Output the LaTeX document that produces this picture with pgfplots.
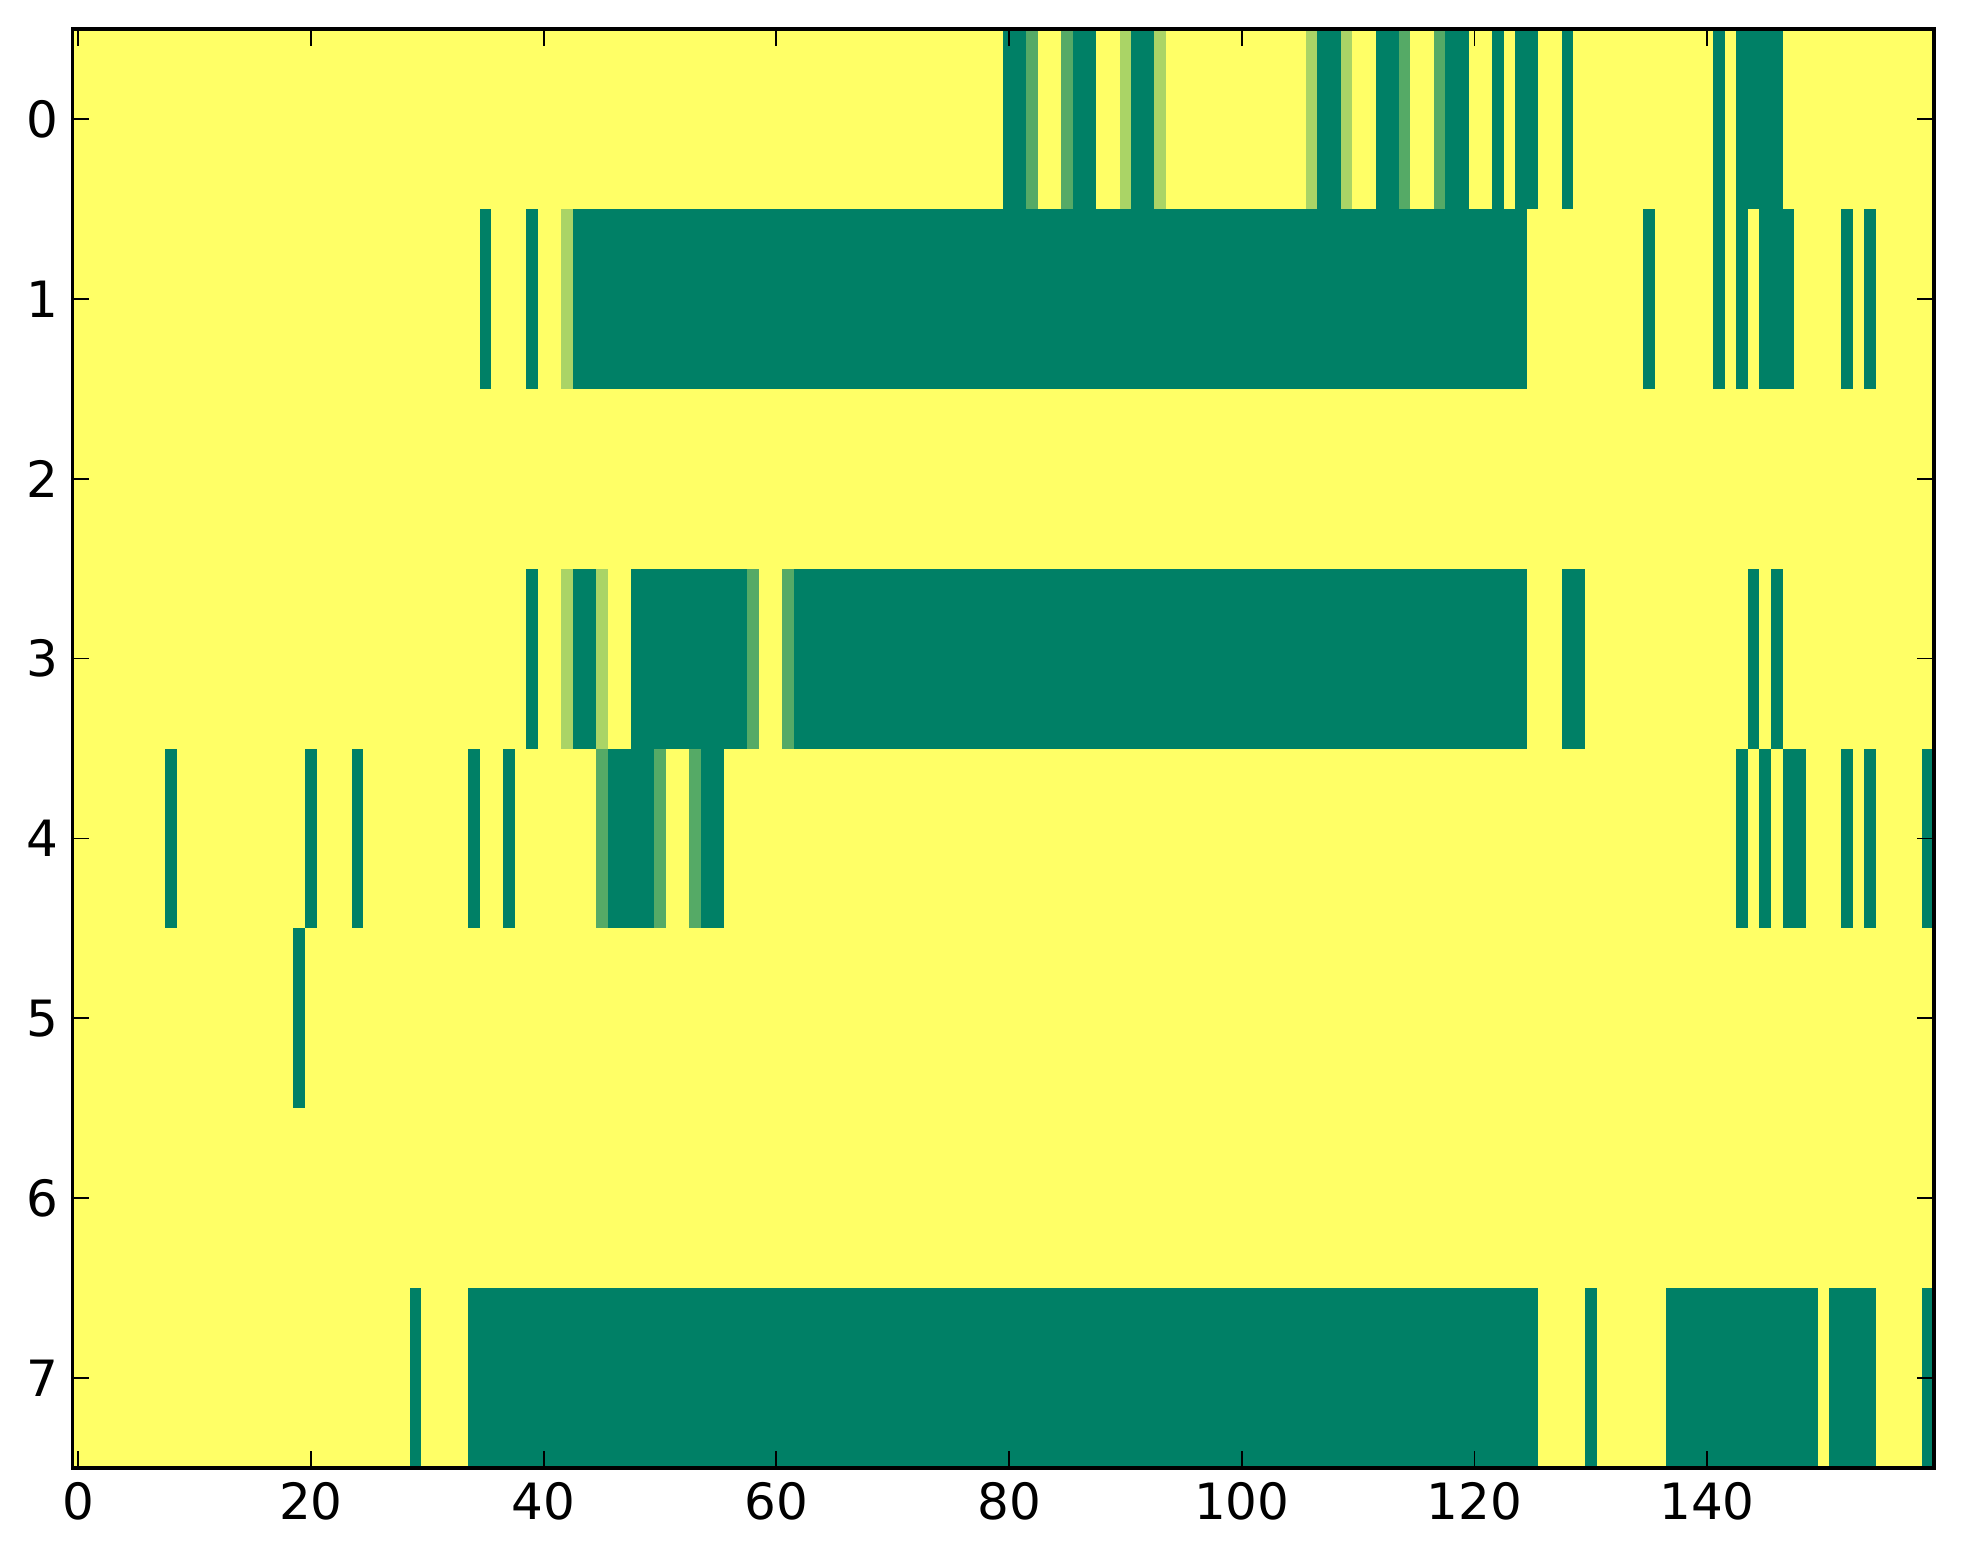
\documentclass[border=0pt]{standalone}
\usepackage{fontspec}
\setmainfont{DejaVu Sans}
\usepackage{pgfplots}
\pgfplotsset{compat=1.18}
\definecolor{yel}{HTML}{FFFF66}
\definecolor{dk}{HTML}{008066}
\definecolor{md}{HTML}{55AA66}
\definecolor{lt}{HTML}{AAD466}
\pgfplotsset{
  D/.style={fill=dk, draw=none, forget plot},
  M/.style={fill=md, draw=none, forget plot},
  L/.style={fill=lt, draw=none, forget plot},
  Y/.style={fill=yel, draw=none, forget plot},
}
\begin{document}
\begin{tikzpicture}
\begin{axis}[
  scale only axis, width=465.4pt, height=359.75pt,
  at={(0,0)}, anchor=south west,
  xmin=-0.5, xmax=159.5, ymin=-0.5, ymax=7.5, y dir=reverse,
  xtick={0,20,...,140}, ytick={0,1,...,7},
  tick align=inside, major tick length=4.2pt,
  axis on top,
  axis line style={line width=0.85pt},
  every tick/.style={black, line width=0.45pt},
  tick label style={font=\fontsize{12.5}{15}\selectfont},
  /pgf/number format/assume math mode=true,
]
% background: value 1 everywhere
\addplot[Y] coordinates {(-0.5,-0.5)(159.5,-0.5)(159.5,7.5)(-0.5,7.5)} -- cycle;
% ---- value 0 (dark) ----
% row 0
\addplot[D] coordinates {(79.5,-0.5)(81.5,-0.5)(81.5,0.5)(79.5,0.5)} -- cycle;
\addplot[D] coordinates {(85.5,-0.5)(87.5,-0.5)(87.5,0.5)(85.5,0.5)} -- cycle;
\addplot[D] coordinates {(90.5,-0.5)(92.5,-0.5)(92.5,0.5)(90.5,0.5)} -- cycle;
\addplot[D] coordinates {(106.5,-0.5)(108.5,-0.5)(108.5,0.5)(106.5,0.5)} -- cycle;
\addplot[D] coordinates {(111.5,-0.5)(113.5,-0.5)(113.5,0.5)(111.5,0.5)} -- cycle;
\addplot[D] coordinates {(117.5,-0.5)(119.5,-0.5)(119.5,0.5)(117.5,0.5)} -- cycle;
\addplot[D] coordinates {(121.5,-0.5)(122.5,-0.5)(122.5,0.5)(121.5,0.5)} -- cycle;
\addplot[D] coordinates {(123.5,-0.5)(125.5,-0.5)(125.5,0.5)(123.5,0.5)} -- cycle;
\addplot[D] coordinates {(127.5,-0.5)(128.5,-0.5)(128.5,0.5)(127.5,0.5)} -- cycle;
\addplot[D] coordinates {(140.5,-0.5)(141.5,-0.5)(141.5,0.5)(140.5,0.5)} -- cycle;
\addplot[D] coordinates {(142.5,-0.5)(146.5,-0.5)(146.5,0.5)(142.5,0.5)} -- cycle;
% row 1
\addplot[D] coordinates {(34.5,0.5)(35.5,0.5)(35.5,1.5)(34.5,1.5)} -- cycle;
\addplot[D] coordinates {(38.5,0.5)(39.5,0.5)(39.5,1.5)(38.5,1.5)} -- cycle;
\addplot[D] coordinates {(42.5,0.5)(124.5,0.5)(124.5,1.5)(42.5,1.5)} -- cycle;
\addplot[D] coordinates {(134.5,0.5)(135.5,0.5)(135.5,1.5)(134.5,1.5)} -- cycle;
\addplot[D] coordinates {(140.5,0.5)(141.5,0.5)(141.5,1.5)(140.5,1.5)} -- cycle;
\addplot[D] coordinates {(142.5,0.5)(143.5,0.5)(143.5,1.5)(142.5,1.5)} -- cycle;
\addplot[D] coordinates {(144.5,0.5)(147.5,0.5)(147.5,1.5)(144.5,1.5)} -- cycle;
\addplot[D] coordinates {(151.5,0.5)(152.5,0.5)(152.5,1.5)(151.5,1.5)} -- cycle;
\addplot[D] coordinates {(153.5,0.5)(154.5,0.5)(154.5,1.5)(153.5,1.5)} -- cycle;
% row 3
\addplot[D] coordinates {(38.5,2.5)(39.5,2.5)(39.5,3.5)(38.5,3.5)} -- cycle;
\addplot[D] coordinates {(42.5,2.5)(44.5,2.5)(44.5,3.5)(42.5,3.5)} -- cycle;
\addplot[D] coordinates {(47.5,2.5)(57.5,2.5)(57.5,3.5)(47.5,3.5)} -- cycle;
\addplot[D] coordinates {(61.5,2.5)(124.5,2.5)(124.5,3.5)(61.5,3.5)} -- cycle;
\addplot[D] coordinates {(127.5,2.5)(129.5,2.5)(129.5,3.5)(127.5,3.5)} -- cycle;
\addplot[D] coordinates {(143.5,2.5)(144.5,2.5)(144.5,3.5)(143.5,3.5)} -- cycle;
\addplot[D] coordinates {(145.5,2.5)(146.5,2.5)(146.5,3.5)(145.5,3.5)} -- cycle;
% row 4
\addplot[D] coordinates {(7.5,3.5)(8.5,3.5)(8.5,4.5)(7.5,4.5)} -- cycle;
\addplot[D] coordinates {(19.5,3.5)(20.5,3.5)(20.5,4.5)(19.5,4.5)} -- cycle;
\addplot[D] coordinates {(23.5,3.5)(24.5,3.5)(24.5,4.5)(23.5,4.5)} -- cycle;
\addplot[D] coordinates {(33.5,3.5)(34.5,3.5)(34.5,4.5)(33.5,4.5)} -- cycle;
\addplot[D] coordinates {(36.5,3.5)(37.5,3.5)(37.5,4.5)(36.5,4.5)} -- cycle;
\addplot[D] coordinates {(45.5,3.5)(49.5,3.5)(49.5,4.5)(45.5,4.5)} -- cycle;
\addplot[D] coordinates {(53.5,3.5)(55.5,3.5)(55.5,4.5)(53.5,4.5)} -- cycle;
\addplot[D] coordinates {(142.5,3.5)(143.5,3.5)(143.5,4.5)(142.5,4.5)} -- cycle;
\addplot[D] coordinates {(144.5,3.5)(145.5,3.5)(145.5,4.5)(144.5,4.5)} -- cycle;
\addplot[D] coordinates {(146.5,3.5)(148.5,3.5)(148.5,4.5)(146.5,4.5)} -- cycle;
\addplot[D] coordinates {(151.5,3.5)(152.5,3.5)(152.5,4.5)(151.5,4.5)} -- cycle;
\addplot[D] coordinates {(153.5,3.5)(154.5,3.5)(154.5,4.5)(153.5,4.5)} -- cycle;
\addplot[D] coordinates {(158.5,3.5)(159.5,3.5)(159.5,4.5)(158.5,4.5)} -- cycle;
% row 5
\addplot[D] coordinates {(18.5,4.5)(19.5,4.5)(19.5,5.5)(18.5,5.5)} -- cycle;
% row 7
\addplot[D] coordinates {(28.5,6.5)(29.5,6.5)(29.5,7.5)(28.5,7.5)} -- cycle;
\addplot[D] coordinates {(33.5,6.5)(125.5,6.5)(125.5,7.5)(33.5,7.5)} -- cycle;
\addplot[D] coordinates {(129.5,6.5)(130.5,6.5)(130.5,7.5)(129.5,7.5)} -- cycle;
\addplot[D] coordinates {(136.5,6.5)(149.5,6.5)(149.5,7.5)(136.5,7.5)} -- cycle;
\addplot[D] coordinates {(150.5,6.5)(154.5,6.5)(154.5,7.5)(150.5,7.5)} -- cycle;
\addplot[D] coordinates {(158.5,6.5)(159.5,6.5)(159.5,7.5)(158.5,7.5)} -- cycle;
% ---- value 1/3 (medium) ----
\addplot[M] coordinates {(81.5,-0.5)(82.5,-0.5)(82.5,0.5)(81.5,0.5)} -- cycle;
\addplot[M] coordinates {(84.5,-0.5)(85.5,-0.5)(85.5,0.5)(84.5,0.5)} -- cycle;
\addplot[M] coordinates {(113.5,-0.5)(114.5,-0.5)(114.5,0.5)(113.5,0.5)} -- cycle;
\addplot[M] coordinates {(116.5,-0.5)(117.5,-0.5)(117.5,0.5)(116.5,0.5)} -- cycle;
\addplot[M] coordinates {(57.5,2.5)(58.5,2.5)(58.5,3.5)(57.5,3.5)} -- cycle;
\addplot[M] coordinates {(60.5,2.5)(61.5,2.5)(61.5,3.5)(60.5,3.5)} -- cycle;
\addplot[M] coordinates {(44.5,3.5)(45.5,3.5)(45.5,4.5)(44.5,4.5)} -- cycle;
\addplot[M] coordinates {(49.5,3.5)(50.5,3.5)(50.5,4.5)(49.5,4.5)} -- cycle;
\addplot[M] coordinates {(52.5,3.5)(53.5,3.5)(53.5,4.5)(52.5,4.5)} -- cycle;
% ---- value 2/3 (light) ----
\addplot[L] coordinates {(89.5,-0.5)(90.5,-0.5)(90.5,0.5)(89.5,0.5)} -- cycle;
\addplot[L] coordinates {(92.5,-0.5)(93.5,-0.5)(93.5,0.5)(92.5,0.5)} -- cycle;
\addplot[L] coordinates {(105.5,-0.5)(106.5,-0.5)(106.5,0.5)(105.5,0.5)} -- cycle;
\addplot[L] coordinates {(108.5,-0.5)(109.5,-0.5)(109.5,0.5)(108.5,0.5)} -- cycle;
\addplot[L] coordinates {(41.5,0.5)(42.5,0.5)(42.5,1.5)(41.5,1.5)} -- cycle;
\addplot[L] coordinates {(41.5,2.5)(42.5,2.5)(42.5,3.5)(41.5,3.5)} -- cycle;
\addplot[L] coordinates {(44.5,2.5)(45.5,2.5)(45.5,3.5)(44.5,3.5)} -- cycle;
\end{axis}
\pgfresetboundingbox
\path (-18.1pt,-24pt) rectangle (472.65pt,367pt);
\end{tikzpicture}
\end{document}
